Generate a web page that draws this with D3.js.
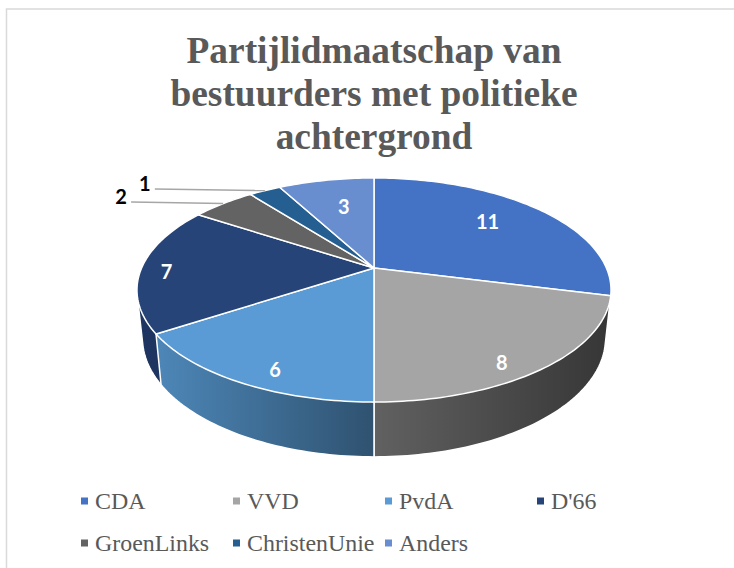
<!DOCTYPE html>
<html><head><meta charset="utf-8">
<script src="https://cdn.jsdelivr.net/npm/d3@7"></script>
<style>html,body{margin:0;padding:0;background:#fff;overflow:hidden}svg{display:block}</style>
</head><body><svg id="c" width="734" height="568"></svg>
<script>
const titleLines = ["Partijlidmaatschap van", "bestuurders met politieke", "achtergrond"];
const categories = ["CDA", "VVD", "PvdA", "D'66", "GroenLinks", "ChristenUnie", "Anders"];
const values = [11, 8, 6, 7, 2, 1, 3];
const colors = ["#4472c4", "#a5a5a5", "#5b9bd5", "#264478", "#636363", "#255e91", "#698ed0"];
const sideFrom = ["#365b9d", "#616161", "#4d87b8", "#1d3560", "#4c4c4c", "#1c4770", "#4f6fa6"];
const sideTo = ["#27426f", "#363636", "#2f5270", "#1d3560", "#4c4c4c", "#1c4770", "#4f6fa6"];

const svg = d3.select("#c");
const serif = "'Liberation Serif'";
// projective model of the tilted disc
const cx = 374, k = 0.1965;
const top_ = {y0: 268, A: 232.4, B: 107.7};
const bot = {y0: 315, A: 227, B: 114};
const project = (m, a, r = 1) => {
  const u = r * Math.sin(a), v = -r * Math.cos(a), w = 1 - k * v;
  return [cx + m.A * u / w, m.y0 + m.B * v / w];
};
const line = d3.line();
const arcPts = (m, a0, a1) => {
  const n = Math.max(2, Math.ceil((a1 - a0) / 0.02));
  return d3.range(n + 1).map(i => project(m, a0 + (a1 - a0) * i / n));
};
const slices = d3.pie().sort(null).value(d => d)(values);

// chart frame
svg.append("path").attr("d", "M6.5,568V9H734").attr("fill", "none").attr("stroke", "#d9d9d9").attr("stroke-width", 1.5);

// title
svg.append("g").selectAll("text").data(titleLines).join("text")
  .attr("x", 374).attr("y", (d, i) => 63 + i * 43)
  .attr("text-anchor", "middle")
  .attr("font-family", serif).attr("font-weight", "bold").attr("font-size", 37.4)
  .attr("fill", "#595959").text(d => d);

// gradients for the rim
const defs = svg.append("defs");
slices.forEach((s, i) => {
  const g = defs.append("linearGradient").attr("id", "side" + i);
  g.append("stop").attr("offset", 0).attr("stop-color", sideFrom[i]);
  g.append("stop").attr("offset", 1).attr("stop-color", sideTo[i]);
});

// rim: hull of each slice's upper and lower arc, back to front
const rimOrder = [0, 4, 5, 6, 3, 1, 2];
svg.append("g").selectAll("path").data(rimOrder).join("path")
  .attr("d", i => {
    const s = slices[i];
    const pts = arcPts(top_, s.startAngle, s.endAngle).concat(arcPts(bot, s.startAngle, s.endAngle));
    return line(d3.polygonHull(pts)) + "Z";
  })
  .attr("fill", i => `url(#side${i})`)
  .attr("stroke", "#fff").attr("stroke-width", 1.5).attr("stroke-linejoin", "round");

// top face
svg.append("g").selectAll("path").data(slices).join("path")
  .attr("d", s => line([[cx, top_.y0]].concat(arcPts(top_, s.startAngle, s.endAngle))) + "Z")
  .attr("fill", (s, i) => colors[i])
  .attr("stroke", "#fff").attr("stroke-width", 1.5).attr("stroke-linejoin", "round");

// leader lines + labels
const mid = s => (s.startAngle + s.endAngle) / 2;
const outside = new Set([4, 5]);
const labelNudge = {0: [-8, -3], 1: [12, 25], 2: [-8, 23], 3: [-40, 3], 4: [-102, -8], 5: [-120, -8], 6: [6, 4]};
const labelAt = (s, i) => {
  const p = project(top_, mid(s), outside.has(i) ? 1 : 0.72);
  return [p[0] + labelNudge[i][0], p[1] + labelNudge[i][1]];
};
svg.append("g").selectAll("path").data(slices.filter((s, i) => outside.has(i))).join("path")
  .attr("d", s => {
    const l = labelAt(s, s.index), e = project(top_, mid(s));
    return line([[l[0] + 10, l[1] + 6.5], e]);
  })
  .attr("fill", "none").attr("stroke", "#a6a6a6").attr("stroke-width", 1.5);
svg.append("g").selectAll("text").data(slices).join("text")
  .attr("x", (s, i) => labelAt(s, i)[0]).attr("y", (s, i) => labelAt(s, i)[1])
  .attr("text-anchor", "middle").attr("dominant-baseline", "central")
  .attr("font-family", "Lato").attr("font-weight", "bold").attr("font-size", 20)
  .attr("fill", (s, i) => outside.has(i) ? "#000" : "#fff")
  .text(s => s.value);

// legend
const colX = [81, 233, 385, 537], rowY = [501, 543];
const lg = svg.append("g").selectAll("g").data(categories).join("g")
  .attr("transform", (d, i) => `translate(${colX[i % 4]},${rowY[Math.floor(i / 4)]})`);
lg.append("rect").attr("x", 0).attr("y", -3.5).attr("width", 7).attr("height", 7).attr("fill", (d, i) => colors[i]);
lg.append("text").attr("x", 14).attr("y", 7.5)
  .attr("font-family", serif).attr("font-size", 23.9).attr("fill", "#595959").text(d => d);
</script></body></html>
